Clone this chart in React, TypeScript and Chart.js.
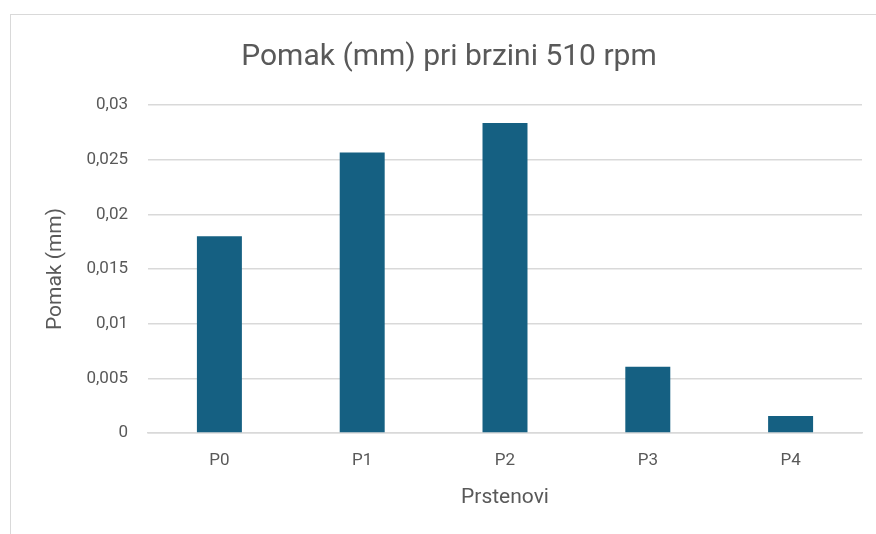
import React, { useEffect, useRef } from "react";
import { Chart, registerables } from "chart.js";

Chart.register(...registerables);

const categories = ["P0", "P1", "P2", "P3", "P4"];
const pomakValues = [0.018, 0.02565, 0.02835, 0.00605, 0.00155];
const yMin = 0;
const yMax = 0.03;
const yStep = 0.005;
const chartTitle = "Pomak (mm) pri brzini 510 rpm";
const xAxisTitle = "Prstenovi";
const yAxisTitle = "Pomak (mm)";

const FONT = "Roboto, 'Noto Sans', sans-serif";
const TEXT = "#595959";
const GRID = "#d9d9d9";

function fmt(v: number): string {
  const s = Number(v.toFixed(4)).toString();
  return s.replace(".", ",");
}

const titlePlugin = {
  id: "boxTitle",
  afterDraw(chart: any) {
    const ctx = chart.ctx;
    ctx.save();
    ctx.font = `normal 30px ${FONT}`;
    ctx.fillStyle = TEXT;
    ctx.textAlign = "center";
    ctx.textBaseline = "alphabetic";
    ctx.fillText(chartTitle, 449, 65);
    ctx.restore();
  },
};

export default function App() {
  const ref = useRef<HTMLCanvasElement | null>(null);
  useEffect(() => {
    if (!ref.current) return;
    const chart = new Chart(ref.current, {
      type: "bar",
      data: {
        labels: categories,
        datasets: [
          {
            label: yAxisTitle,
            data: pomakValues,
            backgroundColor: "#156082",
            borderWidth: 0,
            barPercentage: 0.63,
            categoryPercentage: 0.5,
          },
        ],
      },
      plugins: [titlePlugin],
      options: {
        animation: false,
        responsive: false,
        maintainAspectRatio: false,
        layout: { padding: { left: 0, right: 14, top: 105, bottom: 0 } },
        plugins: {
          legend: { display: false },
          tooltip: { enabled: false },
          title: { display: false },
        },
        scales: {
          x: {
            grid: { display: false, drawTicks: false },
            border: { display: true, color: GRID, width: 1.5 },
            ticks: {
              color: TEXT,
              font: { family: FONT, size: 17 },
              padding: 18,
            },
            title: {
              display: true,
              text: xAxisTitle,
              color: TEXT,
              font: { family: FONT, size: 21 },
              padding: { top: 8, bottom: 24 },
            },
            afterFit: (s: any) => {
              s.height = 101;
            },
          },
          y: {
            min: yMin,
            max: yMax,
            grid: { color: GRID, lineWidth: 1.5, drawTicks: false },
            border: { display: false },
            ticks: {
              stepSize: yStep,
              color: TEXT,
              font: { family: FONT, size: 17 },
              padding: 20,
              callback: (v: any) => fmt(Number(v)),
            },
            title: {
              display: true,
              text: yAxisTitle,
              color: TEXT,
              font: { family: FONT, size: 21 },
              padding: { top: 43, bottom: 0 },
            },
            afterFit: (s: any) => {
              s.width = 148;
            },
          },
        },
      },
    });
    return () => chart.destroy();
  }, []);

  return (
    <div
      style={{
        position: "fixed",
        left: 0,
        top: 0,
        width: 876,
        height: 534,
        overflow: "hidden",
        background: "#fff",
      }}
    >
      <div
        style={{
          position: "absolute",
          left: 10,
          top: 14,
          width: 900,
          height: 600,
          border: `1px solid ${GRID}`,
          boxSizing: "border-box",
        }}
      />
      <canvas
        ref={ref}
        width={876}
        height={534}
        style={{ position: "absolute", left: 0, top: 0, width: 876, height: 534 }}
      />
    </div>
  );
}
